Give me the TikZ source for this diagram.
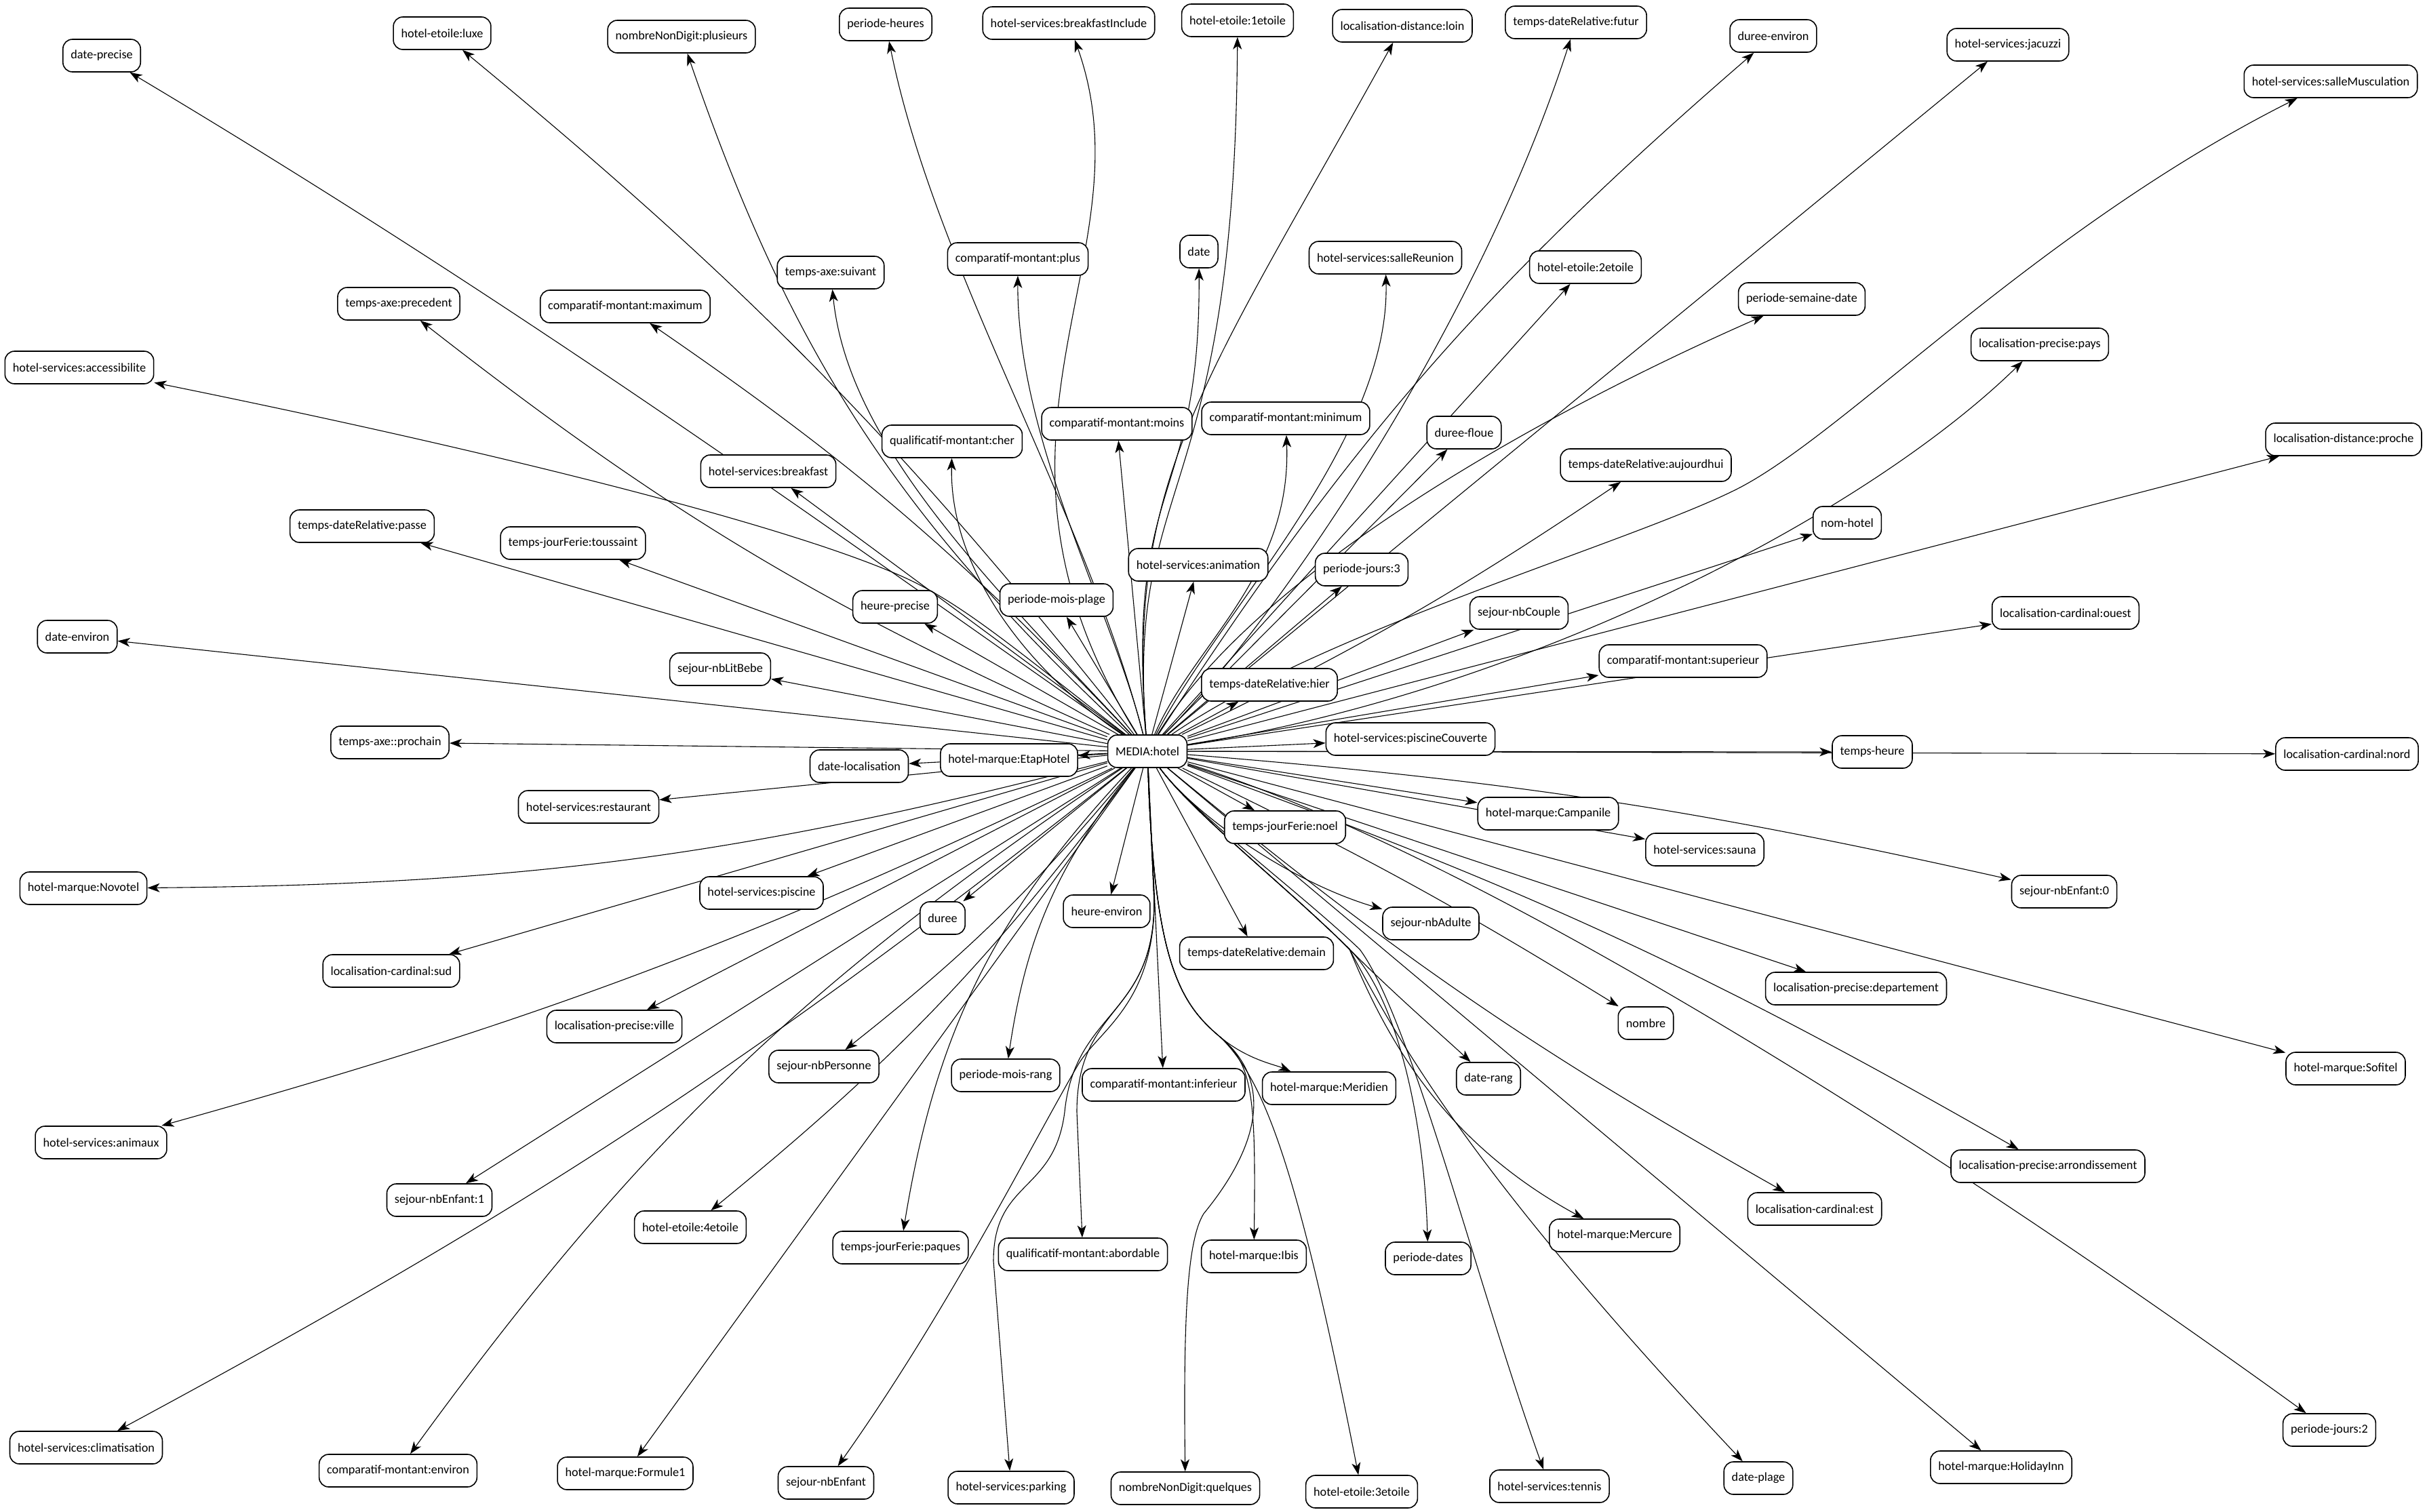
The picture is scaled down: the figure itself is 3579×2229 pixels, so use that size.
\documentclass[tikz,border=0pt]{standalone}
\usepackage{fontspec}
\newfontfamily\carl{Carlito}
\usetikzlibrary{arrows.meta}
\pgfdeclarelayer{bg}
\pgfsetlayers{bg,main}
\tikzset{
  nd/.style={draw, rounded corners=3.5pt, minimum height=12pt, inner xsep=2.875pt, inner ysep=0pt,
    line width=0.4pt, fill=white, font=\carl\fontsize{4.55pt}{5.5pt}\selectfont},
  ed/.style={-{Stealth[length=4.5pt,width=3.25pt,inset=1.25pt]}, line width=0.275pt}
}
\begin{document}
\begin{tikzpicture}[x=0.25pt,y=-0.25pt]
\useasboundingbox (0,0) rectangle (3579,2229);
\node[nd] (m) at (1692,1108) {MEDIA:hotel};
\node[nd] (a1) at (150,82) {date-precise};
\node[nd] (a2) at (652,49) {hotel-etoile:luxe};
\node[nd] (a3) at (1005,54) {nombreNonDigit:plusieurs};
\node[nd] (a4) at (1306,36) {periode-heures};
\node[nd] (a5) at (1576,34) {hotel-services:breakfastInclude};
\node[nd] (a6) at (1825,30) {hotel-etoile:1etoile};
\node[nd] (a7) at (2068,38) {localisation-distance:loin};
\node[nd] (a8) at (2324,33) {temps-dateRelative:futur};
\node[nd] (a9) at (2615,53) {duree-environ};
\node[nd] (a10) at (2961,66) {hotel-services:jacuzzi};
\node[nd] (a11) at (3437,120) {hotel-services:salleMusculation};
\node[nd] (b1) at (1225,402) {temps-axe:suivant};
\node[nd] (b2) at (1501,382) {comparatif-montant:plus};
\node[nd] (b3) at (1768,371) {date};
\node[nd] (b4) at (2043,380) {hotel-services:salleReunion};
\node[nd] (b5) at (2338,394) {hotel-etoile:2etoile};
\node[nd] (b6) at (588,448) {temps-axe:precedent};
\node[nd] (b7) at (922,452) {comparatif-montant:maximum};
\node[nd] (b8) at (2657,441) {periode-semaine-date};
\node[nd] (b9) at (117,542) {hotel-services:accessibilite};
\node[nd] (b10) at (3008,508) {localisation-precise:pays};
\node[nd] (c1) at (1647,625) {comparatif-montant:moins};
\node[nd] (c2) at (1896,617) {comparatif-montant:minimum};
\node[nd] (c3) at (1404,651) {qualificatif-montant:cher};
\node[nd] (c4) at (2159,638) {duree-floue};
\node[nd] (c5) at (3456,648) {localisation-distance:proche};
\node[nd] (c6) at (1133,695) {hotel-services:breakfast};
\node[nd] (c7) at (2427,686) {temps-dateRelative:aujourdhui};
\node[nd] (c8) at (534,776) {temps-dateRelative:passe};
\node[nd] (c9) at (845,801) {temps-jourFerie:toussaint};
\node[nd] (c10) at (2724,771) {nom-hotel};
\node[nd] (c11) at (1767,833) {hotel-services:animation};
\node[nd] (c12) at (2008,840) {periode-jours:3};
\node[nd] (c13) at (1558,885) {periode-mois-plage};
\node[nd] (c14) at (1320,895) {heure-precise};
\node[nd] (c15) at (2240,904) {sejour-nbCouple};
\node[nd] (c16) at (3046,904) {localisation-cardinal:ouest};
\node[nd] (c17) at (114,939) {date-environ};
\node[nd] (c18) at (1062,987) {sejour-nbLitBebe};
\node[nd] (c19) at (2482,975) {comparatif-montant:superieur};
\node[nd] (c20) at (1872,1010) {temps-dateRelative:hier};
\node[nd] (d1) at (575,1095) {temps-axe::prochain};
\node[nd] (d2) at (2080,1090) {hotel-services:piscineCouverte};
\node[nd] (d3) at (1488,1121) {hotel-marque:EtapHotel};
\node[nd] (d4) at (1267,1130) {date-localisation};
\node[nd] (d5) at (2761,1109) {temps-heure};
\node[nd] (d6) at (3461,1112) {localisation-cardinal:nord};
\node[nd] (d7) at (868,1190) {hotel-services:restaurant};
\node[nd] (d8) at (2283,1200) {hotel-marque:Campanile};
\node[nd] (d9) at (1895,1220) {temps-jourFerie:noel};
\node[nd] (d10) at (2514,1253) {hotel-services:sauna};
\node[nd] (d11) at (123,1310) {hotel-marque:Novotel};
\node[nd] (d12) at (1123,1317) {hotel-services:piscine};
\node[nd] (d13) at (3044,1315) {sejour-nbEnfant:0};
\node[nd] (d14) at (1390,1354) {duree};
\node[nd] (d15) at (1632,1344) {heure-environ};
\node[nd] (d16) at (2110,1362) {sejour-nbAdulte};
\node[nd] (d17) at (1853,1406) {temps-dateRelative:demain};
\node[nd] (d18) at (577,1432) {localisation-cardinal:sud};
\node[nd] (d19) at (2737,1458) {localisation-precise:departement};
\node[nd] (e1) at (906,1514) {localisation-precise:ville};
\node[nd] (e2) at (2427,1509) {nombre};
\node[nd] (e3) at (1215,1573) {sejour-nbPersonne};
\node[nd] (e4) at (1483,1586) {periode-mois-rang};
\node[nd] (e5) at (1716,1600) {comparatif-montant:inferieur};
\node[nd] (e6) at (1960,1605) {hotel-marque:Meridien};
\node[nd] (e7) at (2195,1591) {date-rang};
\node[nd] (e8) at (3459,1576) {hotel-marque:Sofitel};
\node[nd] (e9) at (149,1685) {hotel-services:animaux};
\node[nd] (e10) at (3020,1720) {localisation-precise:arrondissement};
\node[nd] (e11) at (648,1770) {sejour-nbEnfant:1};
\node[nd] (e12) at (2676,1783) {localisation-cardinal:est};
\node[nd] (e13) at (1018,1810) {hotel-etoile:4etoile};
\node[nd] (e14) at (1328,1840) {temps-jourFerie:paques};
\node[nd] (e15) at (2381,1822) {hotel-marque:Mercure};
\node[nd] (e16) at (1597,1850) {qualificatif-montant:abordable};
\node[nd] (e17) at (1849,1853) {hotel-marque:Ibis};
\node[nd] (e18) at (2106,1856) {periode-dates};
\node[nd] (f1) at (3435,2109) {periode-jours:2};
\node[nd] (f2) at (127,2135) {hotel-services:climatisation};
\node[nd] (f3) at (587,2169) {comparatif-montant:environ};
\node[nd] (f4) at (922,2173) {hotel-marque:Formule1};
\node[nd] (f5) at (1218,2187) {sejour-nbEnfant};
\node[nd] (f6) at (1491,2194) {hotel-services:parking};
\node[nd] (f7) at (1748,2195) {nombreNonDigit:quelques};
\node[nd] (f8) at (2008,2200) {hotel-etoile:3etoile};
\node[nd] (f9) at (2285,2192) {hotel-services:tennis};
\node[nd] (f10) at (2593,2180) {date-plage};
\node[nd] (f11) at (2951,2164) {hotel-marque:HolidayInn};
\begin{pgfonlayer}{bg}
\fill[white] (0,0) rectangle (3579,2229);
\begin{scope}[ed]
\draw (m) .. controls (1250,800) and (800,470) .. (a1);
\draw (m) to[bend right=6] (a2);
\draw (m) to[bend left=14] (a3);
\draw (m) .. controls (1600,750) and (1380,400) .. (a4);
\draw (m) .. controls (1400,640) and (1700,380) .. (a5);
\draw (m) .. controls (1660,700) and (1820,750) .. (a6);
\draw (m) .. controls (1660,700) and (1780,560) .. (a7);
\draw (m) .. controls (1880,920) and (2180,480) .. (a8);
\draw (m) to[bend left=8] (a9);
\draw (m) -- (a10);
\draw (m) .. controls (1950,930) and (2400,802) .. (2560,722) .. controls (2720,642) and (3000,340) .. (a11);
\draw (m) .. controls (1450,850) and (1250,650) .. (b1);
\draw (m) .. controls (1640,900) and (1500,650) .. (b2);
\draw (m) .. controls (1660,700) and (1770,750) .. (b3);
\draw (m) .. controls (1800,900) and (2050,650) .. (b4);
\draw (m) -- (b5);
\draw (m) to[bend left=7] (b6);
\draw (m) to[bend right=6] (b7);
\draw (m) .. controls (1850,850) and (2250,620) .. (b8);
\draw (m) .. controls (1500,960) and (1420,890) .. (1330,850) .. controls (1150,770) and (700,660) .. (b9);
\draw (m) .. controls (2250,1020) and (2750,760) .. (b10);
\draw (m) -- (c1);
\draw (m) .. controls (1760,950) and (1905,850) .. (c2);
\draw (m) .. controls (1530,1000) and (1400,850) .. (c3);
\draw (m) -- (c4);
\draw (m) -- (c5);
\draw (m) -- (c6);
\draw (m) to[bend right=4] (c7);
\draw (m) -- (c8);
\draw (m) -- (c9);
\draw (m) -- (c10);
\draw (m) -- (c11);
\draw (m) -- (c12);
\draw (m) -- (c13);
\draw (m) -- (c14);
\draw (m) -- (c15);
\draw (m) -- (c16);
\draw (m) -- (c17);
\draw (m) -- (c18);
\draw (m) -- (c19);
\draw (m) -- (c20);
\draw (m) -- (d1);
\draw (m) -- (d2);
\draw (m) -- (d3);
\draw (m) -- (d4);
\draw (m) -- (d5);
\draw (m) -- (d6);
\draw (m) -- (d7);
\draw (m) -- (d8);
\draw (m) -- (d9);
\draw (m) -- (d10);
\draw (m) to[bend left=7] (d11);
\draw (m) -- (d12);
\draw (m) to[bend left=4] (d13);
\draw (m) -- (d14);
\draw (m) -- (d15);
\draw (m) .. controls (1760,1200) and (1900,1300) .. (d16);
\draw (m) -- (d17);
\draw (m) -- (d18);
\draw (m) -- (d19);
\draw (m) -- (e1);
\draw (m) to[bend left=3] (e2);
\draw (m) to[bend left=6] (e3);
\draw (m) to[bend right=15] (e4);
\draw (m) -- (e5);
\draw (m) .. controls (1702,1420) and (1740,1480) .. (1800,1530) .. controls (1840,1563) and (1880,1570) .. (e6);
\draw (m) .. controls (1760,1200) and (1900,1310) .. (1990,1400) .. controls (2060,1470) and (2130,1530) .. (e7);
\draw (m) -- (e8);
\draw (m) to[bend left=5] (e9);
\draw (m) to[bend left=5] (e10);
\draw (m) -- (e11);
\draw (m) to[bend right=5] (e12);
\draw (m) to[bend left=7] (e13);
\draw (m) to[bend right=17] (e14);
\draw (m) .. controls (1760,1200) and (1900,1310) .. (1990,1400) .. controls (2040,1520) and (2120,1680) .. (e15);
\draw (m) -- (1702,1330) .. controls (1702,1500) and (1588,1480) .. (1588,1640) -- (e16);
\draw (m) .. controls (1702,1420) and (1740,1480) .. (1800,1530) .. controls (1848,1570) and (1852,1620) .. (e17);
\draw (m) .. controls (1760,1200) and (1900,1310) .. (1990,1400) .. controls (2060,1470) and (2100,1650) .. (e18);
\draw (m) .. controls (2150,1250) and (2800,1650) .. (f1);
\draw (m) to[bend left=5] (f2);
\draw (m) to[bend right=10] (f3);
\draw (m) -- (f4);
\draw (m) -- (1702,1330) .. controls (1702,1480) and (1620,1520) .. (1590,1570) .. controls (1520,1690) and (1400,1930) .. (f5);
\draw (m) -- (1702,1330) .. controls (1702,1500) and (1585,1490) .. (1570,1640) .. controls (1555,1760) and (1465,1740) .. (1465,1860) -- (f6);
\draw (m) .. controls (1702,1420) and (1740,1480) .. (1800,1530) .. controls (1872,1590) and (1865,1680) .. (1775,1790) .. controls (1750,1830) and (1745,1950) .. (f7);
\draw (m) .. controls (1702,1420) and (1740,1480) .. (1800,1530) .. controls (1860,1590) and (1910,1700) .. (f8);
\draw (m) .. controls (1760,1200) and (1910,1310) .. (2005,1400) .. controls (2080,1500) and (2180,1900) .. (f9);
\draw (m) .. controls (1760,1200) and (1900,1310) .. (1990,1400) .. controls (2060,1530) and (2160,1720) .. (f10);
\draw (m) -- (f11);
\end{scope}
\end{pgfonlayer}
\end{tikzpicture}
\end{document}
